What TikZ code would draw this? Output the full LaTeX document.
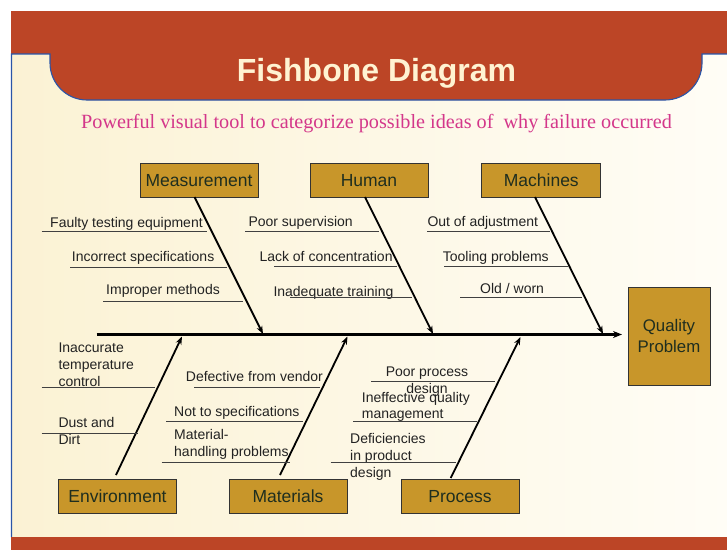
\documentclass[tikz,border=0pt]{standalone}
\usepackage{fontspec}
\setmainfont{Liberation Sans}
\newfontfamily\serifface{Liberation Serif}
\usetikzlibrary{arrows.meta}
\definecolor{bandred}{HTML}{BC4526}
\definecolor{creamL}{HTML}{FBF2D4}
\definecolor{creamR}{HTML}{FFFDF6}
\definecolor{edgeblue}{HTML}{2A55A8}
\definecolor{boxgold}{HTML}{C8962A}
\definecolor{boxtext}{HTML}{1F2E1F}
\definecolor{subpink}{HTML}{D4378A}
\definecolor{titlecream}{HTML}{FFF3D2}
\definecolor{labeltext}{HTML}{222222}
\tikzset{
  catbox/.style={draw=black!80, line width=0.8pt, fill=boxgold, text=boxtext,
    font=\fontsize{17.5}{19}\selectfont, inner sep=0pt, text height=12.6pt, text depth=0pt},
  cause/.style={font=\fontsize{14}{17}\selectfont, text=labeltext, inner sep=0pt, anchor=base west},
  subline/.style={draw=black!75, line width=0.8pt},
  bone/.style={draw=black, line width=1.8pt, -{Stealth[length=8pt,width=6pt]}},
  spine/.style={draw=black, line width=2.2pt, -{Stealth[length=9pt,width=7pt]}}
}
\begin{document}
\begin{tikzpicture}[x=1pt,y=-1pt]
\useasboundingbox (0,0) rectangle (727,550);
\fill[white] (0,0) rectangle (727,550);
% background
\shade[left color=creamL, right color=creamR] (11,54) rectangle (727,537);
% top band
\fill[bandred] (11,11) rectangle (727,54);
\fill[bandred] (50,50) [rounded corners=37pt] -- (50,100) -- (702,100) [sharp corners] -- (702,50) -- cycle;
\draw[edgeblue, line width=1.1pt] (11.5,537) -- (11.5,54) -- (50,54) [rounded corners=37pt] -- (50,100) -- (702,100) [sharp corners] -- (702,54) -- (727,54);
% bottom band
\fill[bandred] (11,537) rectangle (727,550);
% titles
\node[font=\bfseries\fontsize{32}{34}\selectfont, text=titlecream] (title) at (376.5,73) {Fishbone Diagram};
\node[font=\serifface\fontsize{20.2}{22}\selectfont, text=subpink] (subtitle) at (376.5,124) {Powerful visual tool to categorize possible ideas of \ why failure occurred};

% category boxes
\node[catbox, minimum width=118pt, minimum height=34pt] (meas) at (199,180) {Measurement};
\node[catbox, minimum width=118pt, minimum height=34pt] (human) at (369,180) {Human};
\node[catbox, minimum width=119pt, minimum height=34pt] (mach) at (541.3,180) {Machines};
\node[catbox, minimum width=118pt, minimum height=34pt] (env) at (117.5,496) {Environment};
\node[catbox, minimum width=118pt, minimum height=34pt] (mat) at (288,496) {Materials};
\node[catbox, minimum width=118pt, minimum height=34pt] (proc) at (460,496) {Process};
\node[draw=black!80, line width=0.8pt, fill=boxgold, text=boxtext, inner sep=0pt, minimum width=82pt, minimum height=98pt, align=center, font=\fontsize{16.8}{21.5}\selectfont] (qp) at (669,336) {Quality\\Problem};

% spine
\coordinate (tail) at (96.7,334.5);
\coordinate (head) at (622,334.5);
\draw[spine] (tail) -- (head);

% bones
\coordinate (measA) at (194.5,197);
\coordinate (measB) at (263,334);
\coordinate (humA) at (365,197);
\coordinate (humB) at (433,334);
\coordinate (machA) at (535,197);
\coordinate (machB) at (603,334);
\coordinate (envA) at (116,475);
\coordinate (envB) at (182,336.5);
\coordinate (matA) at (280,475);
\coordinate (matB) at (347.5,336.5);
\coordinate (procA) at (450.7,478);
\coordinate (procB) at (520.5,337);
\draw[bone] (measA) -- (measB);
\draw[bone] (humA) -- (humB);
\draw[bone] (machA) -- (machB);
\draw[bone] (envA) -- (envB);
\draw[bone] (matA) -- (matB);
\draw[bone] (procA) -- (procB);

% Measurement causes
\node[cause] (m1) at (50,227) {Faulty testing equipment};
\draw[subline] (41.7,231.7) -- (206.7,231.7);
\node[cause] (m2) at (71.7,261.7) {Incorrect specifications};
\draw[subline] (70,267) -- (226.7,267);
\node[cause] (m3) at (106,294) {Improper methods};
\draw[subline] (103,301) -- (243,301);

% Human causes
\node[cause] (h1) at (248.3,226) {Poor supervision};
\draw[subline] (245,231.7) -- (379.3,231.7);
\node[cause] (h2) at (259.3,261) {Lack of concentration};
\draw[subline] (274.3,266.7) -- (396.7,266.7);
\node[cause] (h3) at (273.3,296) {Inadequate training};
\draw[subline] (290,297.7) -- (411.7,297.7);

% Machines causes
\node[cause] (c1) at (427.3,226) {Out of adjustment};
\draw[subline] (427.3,231.7) -- (550,231.7);
\node[cause] (c2) at (442.7,261) {Tooling problems};
\draw[subline] (444,266.7) -- (567.7,266.7);
\node[cause] (c3) at (480,293.3) {Old / worn};
\draw[subline] (460,297.7) -- (582.3,297.7);

% Environment causes
\node[cause] (e1a) at (58.3,352) {Inaccurate};
\node[cause] (e1b) at (58.3,369) {temperature};
\node[cause] (e1c) at (58.3,386) {control};
\draw[subline] (41.7,387.7) -- (155,387.7);
\node[cause] (e2a) at (58.3,427) {Dust and};
\node[cause] (e2b) at (58.3,444) {Dirt};
\draw[subline] (41.7,433.3) -- (138.3,433.3);

% Materials causes
\node[cause] (t1) at (185.7,381) {Defective from vendor};
\draw[subline] (194,387.7) -- (320,387.7);
\node[cause] (t2) at (174,416) {Not to specifications};
\draw[subline] (166,421.7) -- (302.7,421.7);
\node[cause] (t3a) at (174,439) {Material-};
\node[cause] (t3b) at (174,456.5) {handling problems};
\draw[subline] (161.7,462.3) -- (290,462.3);

% Process causes
\node[cause, anchor=base] (p1a) at (427,376) {Poor process};
\node[cause, anchor=base] (p1b) at (427,393.3) {design};
\draw[subline] (371,381.7) -- (495,381.7);
\node[cause] (p2a) at (361.7,402.3) {Ineffective quality};
\node[cause] (p2b) at (361.7,418.5) {management};
\draw[subline] (353.3,421.7) -- (476.7,421.7);
\node[cause] (p3a) at (350,443.3) {Deficiencies};
\node[cause] (p3b) at (350,460.7) {in product};
\node[cause] (p3c) at (350,477.7) {design};
\draw[subline] (330.7,462.3) -- (455.7,462.3);
\end{tikzpicture}
\end{document}
